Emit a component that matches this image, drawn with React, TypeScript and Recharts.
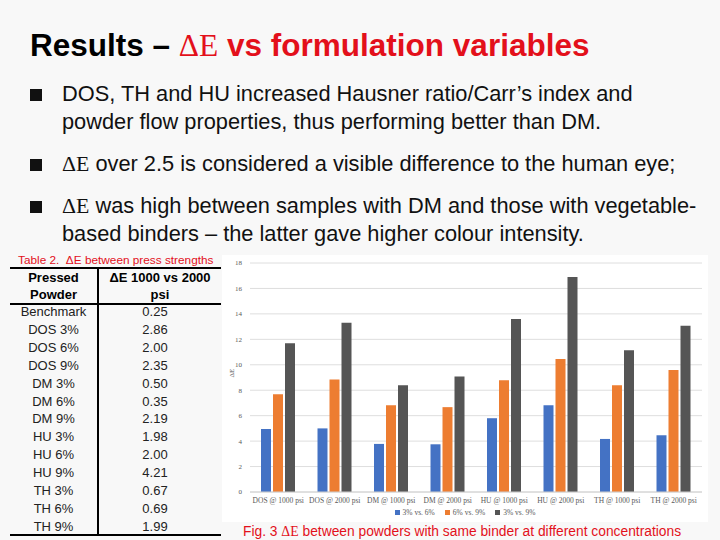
import React from "react";
import { BarChart, Bar, XAxis, YAxis, CartesianGrid } from "recharts";

const categories = [
  "DOS @ 1000 psi",
  "DOS @ 2000 psi",
  "DM @ 1000 psi",
  "DM @ 2000 psi",
  "HU @ 1000 psi",
  "HU @ 2000 psi",
  "TH @ 1000 psi",
  "TH @ 2000 psi",
];
const seriesNames = ["3% vs. 6%", "6% vs. 9%", "3% vs. 9%"];
const s3vs6 = [4.95, 5.0, 3.78, 3.75, 5.8, 6.82, 4.17, 4.46];
const s6vs9 = [7.69, 8.85, 6.82, 6.67, 8.79, 10.45, 8.4, 9.58];
const s3vs9 = [11.7, 13.3, 8.4, 9.08, 13.6, 16.9, 11.15, 13.07];
const yTicks = [0, 2, 4, 6, 8, 10, 12, 14, 16, 18];

const powders = [
  "Benchmark",
  "DOS 3%",
  "DOS 6%",
  "DOS 9%",
  "DM 3%",
  "DM 6%",
  "DM 9%",
  "HU 3%",
  "HU 6%",
  "HU 9%",
  "TH 3%",
  "TH 6%",
  "TH 9%",
];
const pressDelta = ["0.25", "2.86", "2.00", "2.35", "0.50", "0.35", "2.19", "1.98", "2.00", "4.21", "0.67", "0.69", "1.99"];

const bullets = [
  ["DOS, TH and HU increased Hausner ratio/Carr\u2019s index and", "powder flow properties, thus performing better than DM."],
  ["\u0394E over 2.5 is considered a visible difference to the human eye;"],
  ["\u0394E was high between samples with DM and those with vegetable-", "based binders \u2013 the latter gave higher colour intensity."],
];

const RED = "#e3101b";
const SANS = "'Liberation Sans', Arial, sans-serif";
const SERIF = "'Liberation Serif', 'Times New Roman', serif";
const AXIS_GREY = "#595959";
const seriesColors = ["#4472c4", "#ed7d31", "#555555"];
const seriesKeys = ["a", "b", "c"];

const data = categories.map((name, i) => ({
  name,
  a: s3vs6[i],
  b: s6vs9[i],
  c: s3vs9[i],
}));

const DeltaE = () => <span style={{ fontFamily: SERIF, fontWeight: 400 }}>ΔE</span>;

const App = () => {
  const bulletTops = [80, 150, 192];
  return (
    <div
      style={{
        position: "absolute",
        left: 0,
        top: 0,
        width: 720,
        height: 540,
        background: "#f8f8f8",
        fontFamily: SANS,
        overflow: "hidden",
      }}
    >
      <div style={{ position: "absolute", left: 30, top: 27, fontSize: 31.5, fontWeight: 700, whiteSpace: "nowrap", color: "#000" }}>
        Results – <span style={{ color: RED }}><DeltaE /> vs formulation variables</span>
      </div>

      {bullets.map((lines, bi) => (
        <div key={bi}>
          <div style={{ position: "absolute", left: 30, top: bulletTops[bi] + 9, width: 12, height: 12, background: "#111" }} />
          {lines.map((line, li) => (
            <div
              key={li}
              style={{ position: "absolute", left: 62, top: bulletTops[bi] + li * 28, fontSize: 21.8, lineHeight: "28px", whiteSpace: "nowrap", color: "#111" }}
            >
              {line.startsWith("\u0394E") ? (
                <>
                  <DeltaE />
                  {line.slice(2)}
                </>
              ) : (
                line
              )}
            </div>
          ))}
        </div>
      ))}

      {/* table */}
      <div style={{ position: "absolute", left: 18, top: 253, fontSize: 11.8, color: RED, whiteSpace: "nowrap" }}>
        Table 2.&nbsp; ΔE between press strengths
      </div>
      <div style={{ position: "absolute", left: 10, top: 267, width: 211, height: 2, background: "#000" }} />
      <div style={{ position: "absolute", left: 10, top: 303, width: 211, height: 2, background: "#000" }} />
      <div style={{ position: "absolute", left: 10, top: 534, width: 211, height: 2, background: "#000" }} />
      <div style={{ position: "absolute", left: 97, top: 267, width: 2, height: 269, background: "#000" }} />
      <div style={{ position: "absolute", left: 10, top: 269, width: 87, textAlign: "center", fontSize: 13, fontWeight: 700, lineHeight: "17px" }}>
        Pressed
        <br />
        Powder
      </div>
      <div style={{ position: "absolute", left: 99, top: 269, width: 122, textAlign: "center", fontSize: 13, fontWeight: 700, lineHeight: "17px", whiteSpace: "nowrap" }}>
        ΔE 1000 vs 2000
        <br />
        psi
      </div>
      {powders.map((p, i) => (
        <React.Fragment key={p}>
          <div style={{ position: "absolute", left: 10, top: 303 + i * 17.9, width: 87, textAlign: "center", fontSize: 13, lineHeight: "18px", color: "#222" }}>
            {p}
          </div>
          <div style={{ position: "absolute", left: 99, top: 303 + i * 17.9, width: 112, textAlign: "center", fontSize: 13, lineHeight: "18px", color: "#222" }}>
            {pressDelta[i]}
          </div>
        </React.Fragment>
      ))}

      {/* chart panel */}
      <div style={{ position: "absolute", left: 222, top: 255, width: 486, height: 267, background: "#fff" }}>
        <BarChart
          width={486}
          height={267}
          data={data}
          margin={{ top: 8, right: 6, bottom: 17, left: 4 }}
          barCategoryGap="20%"
          barGap={2}
        >
          <CartesianGrid vertical={false} stroke="#dedede" />
          <XAxis
            dataKey="name"
            interval={0}
            tickLine={false}
            axisLine={{ stroke: "#d0d0d0" }}
            height={13}
            tick={{ fontSize: 7.5, fill: AXIS_GREY, fontFamily: SERIF }}
            tickMargin={0}
          />
          <YAxis
            domain={[0, 18]}
            ticks={yTicks}
            width={24}
            tickLine={false}
            axisLine={false}
            tick={{ fontSize: 7, fill: AXIS_GREY, fontFamily: SERIF }}
            label={{ value: "ΔE", angle: -90, position: "insideLeft", offset: 6, style: { fontSize: 7, fill: AXIS_GREY, fontFamily: SERIF } }}
          />
          {seriesKeys.map((k, i) => (
            <Bar key={k} dataKey={k} name={seriesNames[i]} fill={seriesColors[i]} barSize={10} isAnimationActive={false} />
          ))}
        </BarChart>
        <div
          style={{
            position: "absolute",
            left: 0,
            top: 251,
            width: 486,
            display: "flex",
            justifyContent: "center",
            gap: 10,
            fontSize: 7.5,
            fontFamily: SERIF,
            color: AXIS_GREY,
            lineHeight: "13px",
          }}
        >
          {seriesNames.map((n, i) => (
            <span key={n} style={{ display: "flex", alignItems: "center", gap: 3 }}>
              <span style={{ width: 5, height: 5, background: seriesColors[i], display: "inline-block" }} />
              {n}
            </span>
          ))}
        </div>
      </div>

      <div style={{ position: "absolute", left: 243, top: 524, fontSize: 13.8, color: RED, whiteSpace: "nowrap" }}>
        Fig. 3 <DeltaE /> between powders with same binder at different concentrations
      </div>
    </div>
  );
};

export default App;
